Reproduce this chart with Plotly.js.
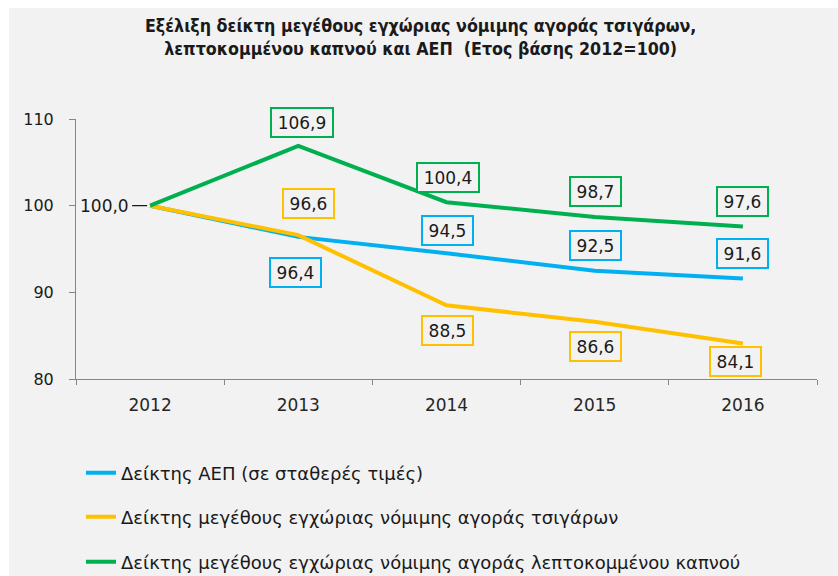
<!DOCTYPE html>
<html>
<head>
<meta charset="utf-8">
<script src="https://cdn.plot.ly/plotly-3.0.1.min.js"></script>
<style>html,body{margin:0;padding:0;background:#fff;}#chart{width:838px;height:576px;}</style>
</head>
<body>
<div id="chart"></div>
<script>
const years = ['2012', '2013', '2014', '2015', '2016'];
const gdpIndex = [100.0, 96.4, 94.5, 92.5, 91.6];
const cigIndex = [100.0, 96.6, 88.5, 86.6, 84.1];
const rykIndex = [100.0, 106.9, 100.4, 98.7, 97.6];
const seriesNames = [
  'Δείκτης ΑΕΠ (σε σταθερές τιμές)',
  'Δείκτης μεγέθους εγχώριας νόμιμης αγοράς τσιγάρων',
  'Δείκτης μεγέθους εγχώριας νόμιμης αγοράς λεπτοκομμένου καπνού'
];
const colors = ['#00b0f0', '#ffc000', '#00b050'];
const yTicks = [80, 90, 100, 110];

// label offsets (pixels) per series for years 2013..2016: [xshift, yshift]
const gdpShift = [[-3, -36], [1, 23], [1, 25], [0, 25]];
const cigShift = [[10, 32], [1, -25], [1, -25], [-7, -18]];
const rykShift = [[4, 23], [1, 25], [1, 25], [0, 25]];

const numFont = 'DejaVu Sans, Verdana, sans-serif';
const narrowFont = 'DejaVu Sans Condensed, Liberation Sans Narrow, DejaVu Sans, sans-serif';

function fmt(v) { return v.toFixed(1).replace('.', ','); }

const series = [gdpIndex, cigIndex, rykIndex];
const shifts = [gdpShift, cigShift, rykShift];
const legendIds = ['legend', 'legend2', 'legend3'];
const traces = series.map((vals, i) => ({
  x: years, y: vals, type: 'scatter', mode: 'lines',
  name: seriesNames[i], legend: legendIds[i],
  line: {color: colors[i], width: 4},
  hoverinfo: 'skip'
}));

const annotations = [];
series.forEach((vals, i) => {
  for (let k = 1; k < years.length; k++) {
    const txt = fmt(vals[k]);
    annotations.push({
      x: k, y: vals[k], xref: 'x', yref: 'y',
      text: txt, showarrow: false,
      xshift: shifts[i][k - 1][0], yshift: shifts[i][k - 1][1],
      font: {family: numFont, size: 17, color: '#1a1a1a'},
      bordercolor: colors[i], borderwidth: 2, borderpad: 1,
      bgcolor: '#f2f2f2',
      width: txt.length > 4 ? 58 : 47, height: 25
    });
  }
});
annotations.push({
  x: 0, y: gdpIndex[0], xref: 'x', yref: 'y',
  text: fmt(gdpIndex[0]), showarrow: true, ax: -46, ay: 0,
  arrowhead: 0, arrowwidth: 1.3, arrowcolor: '#1a1a1a', standoff: 3,
  borderpad: 3,
  font: {family: numFont, size: 17, color: '#1a1a1a'}
});

function legendAt(rowY) {
  return {
    orientation: 'v', x: (81 - 76) / 741, xanchor: 'left',
    y: (379 - rowY) / 260, yanchor: 'middle',
    bgcolor: 'rgba(0,0,0,0)',
    font: {family: numFont, size: 18, color: '#1a1a1a'}
  };
}

const layout = {
  width: 838, height: 576,
  paper_bgcolor: '#ffffff', plot_bgcolor: '#f2f2f2',
  margin: {l: 76, r: 21, t: 119, b: 197, autoexpand: false},
  title: {
    text: '<b>Εξέλιξη δείκτη μεγέθους εγχώριας νόμιμης αγοράς τσιγάρων,<br>λεπτοκομμένου καπνού και ΑΕΠ  (Ετος βάσης 2012=100)</b>',
    font: {family: narrowFont, size: 17.7, color: '#1a1a1a'},
    x: 0.502, xanchor: 'center', y: 0.945, yanchor: 'top', yref: 'container'
  },
  shapes: [{
    type: 'rect', xref: 'paper', yref: 'paper', layer: 'below',
    x0: (9 - 76) / 741, x1: (840 - 76) / 741, y0: (379 - 578) / 260, y1: (379 - 8) / 260,
    fillcolor: '#f2f2f2', line: {width: 0}
  }],
  xaxis: {
    type: 'category', range: [-0.5, years.length - 0.5], autorange: false,
    tickson: 'boundaries', ticks: 'outside', ticklen: 5,
    tickcolor: '#868686', showline: true, linecolor: '#868686', linewidth: 1,
    showgrid: false, zeroline: false, ticklabelstandoff: 11, tickangle: 0,
    tickfont: {family: numFont, size: 17, color: '#262626'}, fixedrange: true
  },
  yaxis: {
    range: [80, 110], tickvals: yTicks, ticktext: yTicks.map(String),
    ticks: 'outside', ticklen: 6, tickcolor: '#868686',
    showline: true, linecolor: '#868686', linewidth: 1,
    showgrid: false, zeroline: false, ticklabelstandoff: 12,
    tickfont: {family: numFont, size: 16, color: '#1a1a1a'}, fixedrange: true
  },
  showlegend: true,
  legend: legendAt(473),
  legend2: legendAt(517),
  legend3: legendAt(562),
  annotations: annotations
};

Plotly.newPlot('chart', traces, layout, {displayModeBar: false, staticPlot: true});
</script>
</body>
</html>
